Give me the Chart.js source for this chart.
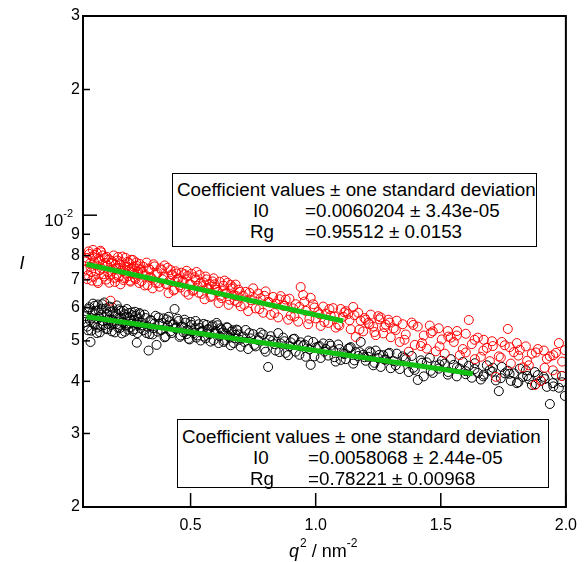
<!DOCTYPE html>
<html>
<head>
<meta charset="utf-8">
<script src="https://cdn.jsdelivr.net/npm/chart.js@4.4.0/dist/chart.umd.min.js"></script>
<style>
  body { margin: 0; background: #fff; }
  #wrap { position: relative; width: 586px; height: 562px; }
  .coef {
    position: absolute; box-sizing: border-box; background: #fff;
    border: 1.5px solid #000; color: #000;
    font-family: "Liberation Sans", Arial, sans-serif; font-size: 18.8px; line-height: 21px;
  }
  .coef .row { position: relative; height: 21px; white-space: nowrap; }
  .coef .row span { position: absolute; top: 0; }
</style>
</head>
<body>
<div id="wrap">
  <canvas id="guinierChart" width="586" height="562"></canvas>

  <div class="coef" style="left:172px; top:173px; width:365px; height:74px; padding-top:5px;">
    <div class="row"><span style="left:4px">Coefficient values ± one standard deviation</span></div>
    <div class="row"><span style="left:80px">I0</span><span style="left:132px">=0.0060204 ± 3.43e-05</span></div>
    <div class="row"><span style="left:77px">Rg</span><span style="left:132px">=0.95512 ± 0.0153</span></div>
  </div>

  <div class="coef" style="left:177px; top:419px; width:372px; height:69px; padding-top:6px;">
    <div class="row"><span style="left:4px">Coefficient values ± one standard deviation</span></div>
    <div class="row"><span style="left:75px">I0</span><span style="left:130px">=0.0058068 ± 2.44e-05</span></div>
    <div class="row"><span style="left:72px">Rg</span><span style="left:130px">=0.78221 ± 0.00968</span></div>
  </div>
</div>

<script>
// q^2 values (nm^-2), shared by both measured curves
const q2 = [
  0.080,0.085,0.090,0.095,0.100,0.105,0.110,0.115,0.120,0.125,0.130,0.135,0.140,0.145,0.150,
  0.155,0.160,0.165,0.170,0.175,0.180,0.185,0.190,0.195,0.200,0.205,0.210,0.215,0.220,0.225,
  0.230,0.235,0.240,0.245,0.250,0.255,0.260,0.265,0.270,0.275,0.280,0.285,0.290,0.295,0.300,
  0.308,0.316,0.324,0.332,0.340,0.348,0.356,0.364,0.372,0.380,0.388,0.396,0.404,0.412,0.420,
  0.428,0.436,0.444,0.452,0.460,0.468,0.476,0.484,0.492,0.500,0.508,0.516,0.524,0.532,0.540,
  0.548,0.556,0.564,0.572,0.580,0.588,0.596,0.604,0.612,0.620,0.628,0.636,0.644,0.652,0.660,
  0.668,0.676,0.684,0.692,0.700,
  0.71,0.72,0.73,0.74,0.75,0.76,0.77,0.78,0.79,0.80,0.81,0.82,0.83,0.84,0.85,0.86,0.87,0.88,0.89,0.90,
  0.91,0.92,0.93,0.94,0.95,0.96,0.97,0.98,0.99,1.00,1.01,1.02,1.03,1.04,1.05,1.06,1.07,1.08,1.09,1.10,
  1.11,1.12,1.13,1.14,1.15,1.16,1.17,1.18,1.19,1.20,1.21,1.22,1.23,1.24,1.25,1.26,1.27,1.28,1.29,1.30,
  1.312,1.324,1.336,1.348,1.360,1.372,1.384,1.396,1.408,1.420,1.432,1.444,1.456,1.468,1.480,
  1.492,1.504,1.516,1.528,1.540,1.552,1.564,1.576,1.588,1.600,1.612,1.624,1.636,1.648,1.660,
  1.672,1.684,1.696,1.708,1.720,1.732,1.744,1.756,1.768,1.780,1.792,1.804,1.816,1.828,1.840,
  1.852,1.864,1.876,1.888,1.900,1.912,1.924,1.936,1.948,1.960,1.972,1.984,1.996,
  // in-between points
  0.0825,0.0875,0.0925,0.0975,0.1025,0.1075,0.1125,0.1175,0.1225,0.1275,0.1325,0.1375,0.1425,0.1475,0.1525,
  0.1575,0.1625,0.1675,0.1725,0.1775,0.1825,0.1875,0.1925,0.1975,0.2025,0.2075,0.2125,0.2175,0.2225,0.2275,
  0.2325,0.2375,0.2425,0.2475,0.2525,0.2575,0.2625,0.2675,0.2725,0.2775,0.2825,0.2875,0.2925,0.2975,
  0.304,0.312,0.320,0.328,0.336,0.344,0.352,0.360,0.368,0.376,0.384,0.392,0.400,0.408,0.416,
  0.424,0.432,0.440,0.448,0.456,0.464,0.472,0.480,0.488,0.496,0.504,0.512,0.520,0.528,0.536,
  0.544,0.552,0.560,0.568,0.576,0.584,0.592,0.600,0.608,0.616,0.624,0.632,0.640,0.648,0.656,
  0.664,0.672,0.680,0.688,0.696,
  0.715,0.735,0.755,0.775,0.795,0.815,0.835,0.855,0.875,0.895,0.915,0.935,0.955,0.975,0.995,
  1.015,1.035,1.055,1.075,1.095,1.115,1.135,1.155,1.175,1.195,1.215,1.235,1.255,1.275,1.295,
  1.320,1.355,1.390,1.425,1.460,1.495,1.530,1.565,1.600,1.635,1.670,1.705,1.740,1.775,1.810,
  1.845,1.880,1.915,1.950,1.985
];

// red curve (upper), intensity I
const redI = [
  0.00742,0.00790,0.00718,0.00808,0.00752,0.00697,0.00826,0.00771,0.00735,0.00812,0.00688,0.00779,0.00822,0.00745,0.00801,
  0.00713,0.00768,0.00795,0.00730,0.00689,0.00624,0.00776,0.00742,0.00708,0.00761,0.00719,0.00794,0.00748,0.00683,0.00772,
  0.00735,0.00706,0.00790,0.00752,0.00714,0.00768,0.00693,0.00745,0.00781,0.00724,0.00702,0.00756,0.00731,0.00688,0.00740,
  0.00731,0.00679,0.00770,0.00745,0.00710,0.00668,0.00754,0.00722,0.00688,0.00746,0.00702,0.00758,0.00683,0.00650,0.00739,
  0.00718,0.00664,0.00725,0.00705,0.00671,0.00698,0.00722,0.00736,0.00645,0.00683,0.00659,0.00710,0.00731,0.00652,0.00690,
  0.00676,0.00629,0.00702,0.00668,0.00637,0.00694,0.00683,0.00662,0.00616,0.00641,0.00658,0.00697,0.00649,0.00610,0.00681,
  0.00672,0.00624,0.00640,0.00663,0.00605,
  0.00641,0.00655,0.00589,0.00626,0.00668,0.00598,0.00649,0.00632,0.00584,0.00657,0.00620,0.00577,0.00637,0.00614,0.00569,
  0.00640,0.00607,0.00628,0.00562,0.00575,0.00598,0.00612,0.00556,0.00673,0.00644,0.00590,0.00548,0.00634,0.00612,0.00566,
  0.00586,0.00543,0.00604,0.00581,0.00552,0.00574,0.00599,0.00538,0.00547,0.00596,0.00571,0.00589,0.00580,0.00533,0.00603,
  0.00511,0.00584,0.00559,0.00527,0.00562,0.00552,0.00578,0.00541,0.00516,0.00573,0.00569,0.00521,0.00547,0.00562,0.00510,
  0.00536,0.00559,0.00497,0.00548,0.00518,0.00471,0.00553,0.00489,0.00541,0.00486,0.00515,0.00479,0.00544,0.00527,0.00472,
  0.00536,0.00504,0.00466,0.00528,0.00509,0.00497,0.00515,0.00462,0.00478,0.00520,0.00561,0.00491,0.00452,0.00509,0.00458,
  0.00503,0.00481,0.00447,0.00486,0.00410,0.00459,0.00497,0.00488,0.00534,0.00441,0.00470,0.00494,0.00476,0.00432,0.00485,
  0.00437,0.00466,0.00392,0.00478,0.00401,0.00474,0.00453,0.00459,0.00425,0.00468,0.00494,0.00412,0.00475,
  // in-between points
  0.00775,0.00703,0.00819,0.00766,0.00731,0.00797,0.00712,0.00803,0.00758,0.00694,0.00787,0.00738,0.00815,0.00762,0.00722,
  0.00790,0.00701,0.00757,0.00784,0.00716,0.00769,0.00733,0.00801,0.00692,0.00748,0.00779,0.00711,0.00763,0.00738,0.00796,
  0.00699,0.00752,0.00725,0.00773,0.00740,0.00697,0.00782,0.00729,0.00753,0.00708,0.00770,0.00721,0.00745,0.00764,
  0.00695,0.00752,0.00718,0.00680,0.00741,0.00706,0.00763,0.00689,0.00727,0.00674,0.00739,0.00711,0.00685,0.00748,0.00697,
  0.00722,0.00660,0.00734,0.00703,0.00679,0.00728,0.00692,0.00655,0.00715,0.00684,0.00724,0.00662,0.00701,0.00677,0.00719,
  0.00648,0.00690,0.00713,0.00665,0.00684,0.00641,0.00706,0.00672,0.00655,0.00693,0.00633,0.00678,0.00650,0.00689,0.00627,
  0.00667,0.00644,0.00682,0.00619,0.00655,
  0.00610,0.00652,0.00633,0.00596,0.00641,0.00618,0.00583,0.00629,0.00607,0.00631,0.00572,0.00603,0.00621,0.00565,0.00601,
  0.00579,0.00555,0.00596,0.00572,0.00544,0.00585,0.00560,0.00576,0.00532,0.00567,0.00548,0.00525,0.00563,0.00539,0.00553,
  0.00531,0.00503,0.00546,0.00494,0.00522,0.00485,0.00512,0.00528,0.00469,0.00503,0.00474,0.00499,0.00456,0.00483,0.00461,
  0.00448,0.00469,0.00431,0.00462,0.00446
];

// black curve (lower), intensity I
const blackI = [
  0.00555,0.00588,0.00530,0.00602,0.00497,0.00566,0.00614,0.00548,0.00590,0.00522,0.00611,0.00570,0.00543,0.00597,0.00558,
  0.00618,0.00535,0.00580,0.00549,0.00604,0.00562,0.00527,0.00589,0.00551,0.00573,0.00608,0.00538,0.00565,0.00590,0.00521,
  0.00556,0.00579,0.00544,0.00596,0.00532,0.00567,0.00550,0.00585,0.00528,0.00561,0.00574,0.00495,0.00547,0.00583,0.00536,
  0.00545,0.00578,0.00522,0.00474,0.00561,0.00518,0.00550,0.00489,0.00569,0.00531,0.00552,0.00510,0.00563,0.00571,0.00527,
  0.00547,0.00596,0.00538,0.00558,0.00515,0.00541,0.00562,0.00519,0.00506,0.00555,0.00527,0.00536,0.00509,0.00548,0.00501,
  0.00529,0.00512,0.00546,0.00533,0.00498,0.00545,0.00523,0.00552,0.00494,0.00536,0.00524,0.00501,0.00539,0.00513,0.00488,
  0.00530,0.00507,0.00532,0.00518,0.00484,
  0.00512,0.00531,0.00478,0.00507,0.00519,0.00485,0.00502,0.00523,0.00518,0.00471,0.00433,0.00513,0.00501,0.00474,0.00522,
  0.00493,0.00509,0.00468,0.00462,0.00496,0.00505,0.00471,0.00489,0.00496,0.00487,0.00458,0.00501,0.00438,0.00497,0.00482,
  0.00484,0.00455,0.00493,0.00478,0.00461,0.00487,0.00474,0.00446,0.00490,0.00450,0.00467,0.00452,0.00479,0.00483,0.00441,
  0.00470,0.00460,0.00497,0.00463,0.00448,0.00458,0.00469,0.00437,0.00474,0.00455,0.00433,0.00462,0.00451,0.00466,0.00430,
  0.00447,0.00466,0.00428,0.00459,0.00452,0.00421,0.00460,0.00426,0.00403,0.00449,0.00411,0.00444,0.00455,0.00419,0.00436,
  0.00429,0.00448,0.00441,0.00415,0.00452,0.00438,0.00411,0.00429,0.00445,0.00423,0.00436,0.00408,0.00442,0.00419,0.00404,
  0.00415,0.00437,0.00426,0.00431,0.00402,0.00379,0.00433,0.00418,0.00424,0.00401,0.00418,0.00396,0.00429,0.00410,0.00425,
  0.00405,0.00392,0.00421,0.00414,0.00401,0.00410,0.00388,0.00353,0.00396,0.00415,0.00386,0.00412,0.00369,
  // in-between points
  0.00573,0.00541,0.00596,0.00560,0.00529,0.00585,0.00552,0.00607,0.00566,0.00538,0.00592,0.00524,0.00578,0.00612,0.00545,
  0.00569,0.00598,0.00533,0.00562,0.00587,0.00546,0.00601,0.00557,0.00524,0.00582,0.00549,0.00595,0.00537,0.00568,0.00553,
  0.00590,0.00526,0.00571,0.00546,0.00583,0.00539,0.00560,0.00576,0.00533,0.00587,0.00551,0.00522,0.00566,0.00579,
  0.00552,0.00530,0.00567,0.00541,0.00519,0.00558,0.00536,0.00574,0.00526,0.00549,0.00531,0.00566,0.00512,0.00544,0.00557,
  0.00522,0.00548,0.00535,0.00565,0.00511,0.00540,0.00524,0.00553,0.00531,0.00504,0.00546,0.00522,0.00558,0.00515,0.00537,
  0.00526,0.00549,0.00507,0.00533,0.00519,0.00541,0.00502,0.00528,0.00545,0.00513,0.00532,0.00497,0.00521,0.00538,0.00509,
  0.00526,0.00494,0.00517,0.00530,0.00503,
  0.00497,0.00522,0.00489,0.00510,0.00478,0.00503,0.00491,0.00470,0.00499,0.00485,0.00506,0.00463,0.00490,0.00477,0.00459,
  0.00486,0.00471,0.00492,0.00457,0.00478,0.00465,0.00481,0.00449,0.00470,0.00457,0.00472,0.00443,0.00463,0.00451,0.00468,
  0.00437,0.00455,0.00431,0.00443,0.00424,0.00439,0.00421,0.00432,0.00416,0.00428,0.00411,0.00422,0.00407,0.00417,0.00398,
  0.00412,0.00394,0.00405,0.00389,0.00398
];

// Guinier fit lines (end points)
const fitRedQ2 = [0.084, 1.11];
const fitRedI = [0.00763, 0.00558];
const fitBlackQ2 = [0.084, 1.628];
const fitBlackI = [0.00571, 0.00417];

// axis ticks
const xTickVals = [0.5, 1.0, 1.5, 2.0];
const xTickLabels = ['0.5', '1.0', '1.5', '2.0'];
const yTickVals = [0.002, 0.003, 0.004, 0.005, 0.006, 0.007, 0.008, 0.009, 0.01, 0.02, 0.03];
const yTickLabels = ['2', '3', '4', '5', '6', '7', '8', '9', '10^-2', '2', '3'];

const FONT = '"Liberation Sans", Arial, sans-serif';

function toPoints(xs, ys) {
    return xs.map((x, i) => ({ x: x, y: ys[i] }));
}

// frame, inward ticks, 10^-2 label and axis titles
const framePlugin = {
    id: 'framePlugin',
    afterDraw(chart) {
        const ctx = chart.ctx;
        const a = chart.chartArea;
        const xs = chart.scales.x;
        const ys = chart.scales.y;
        ctx.save();
        ctx.strokeStyle = '#000';
        ctx.fillStyle = '#000';

        ctx.lineWidth = 1.5;
        yTickVals.forEach((v, i) => {
            const py = ys.getPixelForValue(v);
            const len = yTickLabels[i].indexOf('^') > 0 ? 14 : 7;
            ctx.beginPath();
            ctx.moveTo(a.left, py);
            ctx.lineTo(a.left + len, py);
            ctx.stroke();
        });
        xTickVals.forEach(v => {
            const px = xs.getPixelForValue(v);
            ctx.beginPath();
            ctx.moveTo(px, a.bottom);
            ctx.lineTo(px, a.bottom - 14);
            ctx.stroke();
        });

        ctx.lineWidth = 2;
        ctx.strokeRect(a.left, a.top, a.right - a.left, a.bottom - a.top);

        // exponent label
        yTickLabels.forEach((lab, i) => {
            if (lab.indexOf('^') < 0) return;
            const parts = lab.split('^');
            const py = ys.getPixelForValue(yTickVals[i]);
            ctx.font = '11px ' + FONT;
            const wExp = ctx.measureText(parts[1]).width;
            const right = a.left - 10;
            ctx.textAlign = 'left';
            ctx.textBaseline = 'alphabetic';
            ctx.fillText(parts[1], right - wExp, py + 2);
            ctx.font = '17px ' + FONT;
            ctx.textAlign = 'right';
            ctx.fillText(parts[0], right - wExp, py + 11);
        });

        // y title
        ctx.font = 'italic 18px ' + FONT;
        ctx.textAlign = 'center';
        ctx.textBaseline = 'middle';
        ctx.fillText('I', 22, 264);

        // x title: q^2 / nm^-2
        ctx.textAlign = 'left';
        ctx.textBaseline = 'alphabetic';
        let tx = 289;
        const base = 557;
        ctx.font = 'italic 18px ' + FONT;
        ctx.fillText('q', tx, base);
        tx += ctx.measureText('q').width + 1;
        ctx.font = '12px ' + FONT;
        ctx.fillText('2', tx, base - 10);
        tx += ctx.measureText('2').width;
        ctx.font = '18px ' + FONT;
        ctx.fillText(' / nm', tx, base);
        tx += ctx.measureText(' / nm').width;
        ctx.font = '12px ' + FONT;
        ctx.fillText('-2', tx, base - 10);

        ctx.restore();
    }
};

const ctx = document.getElementById('guinierChart').getContext('2d');
new Chart(ctx, {
    type: 'scatter',
    data: {
        datasets: [
            {
                label: 'fit red',
                data: toPoints(fitRedQ2, fitRedI),
                showLine: true,
                borderColor: 'rgb(18,192,18)',
                borderWidth: 5,
                pointRadius: 0,
                order: 0
            },
            {
                label: 'fit black',
                data: toPoints(fitBlackQ2, fitBlackI),
                showLine: true,
                borderColor: 'rgb(18,192,18)',
                borderWidth: 5,
                pointRadius: 0,
                order: 0
            },
            {
                label: 'red',
                data: toPoints(q2, redI),
                pointRadius: 4.5,
                pointBorderWidth: 1,
                borderColor: '#ff0000',
                backgroundColor: 'rgba(0,0,0,0)',
                order: 1
            },
            {
                label: 'black',
                data: toPoints(q2, blackI),
                pointRadius: 4.5,
                pointBorderWidth: 1,
                borderColor: '#000000',
                backgroundColor: 'rgba(0,0,0,0)',
                order: 2
            }
        ]
    },
    options: {
        responsive: false,
        animation: false,
        layout: { padding: { top: 16, right: 15, left: 0, bottom: 0 } },
        plugins: { legend: { display: false }, tooltip: { enabled: false } },
        scales: {
            x: {
                type: 'linear',
                min: 0.07,
                max: 2.0,
                afterBuildTicks: s => { s.ticks = xTickVals.map(v => ({ value: v })); },
                afterFit: s => { s.height = 55; },
                grid: { display: false, drawTicks: false },
                border: { display: false },
                ticks: {
                    color: '#000',
                    font: { family: FONT, size: 16 },
                    padding: 9,
                    maxRotation: 0,
                    autoSkip: false,
                    callback: (v, i) => xTickLabels[i]
                }
            },
            y: {
                type: 'logarithmic',
                min: 0.002,
                max: 0.03,
                afterBuildTicks: s => { s.ticks = yTickVals.map(v => ({ value: v })); },
                afterFit: s => { s.width = 83; },
                grid: { display: false, drawTicks: false },
                border: { display: false },
                ticks: {
                    color: '#000',
                    font: { family: FONT, size: 16 },
                    padding: 3,
                    autoSkip: false,
                    callback: (v, i) => (yTickLabels[i].indexOf('^') > 0 ? '' : yTickLabels[i])
                }
            }
        }
    },
    plugins: [framePlugin]
});
</script>
</body>
</html>
